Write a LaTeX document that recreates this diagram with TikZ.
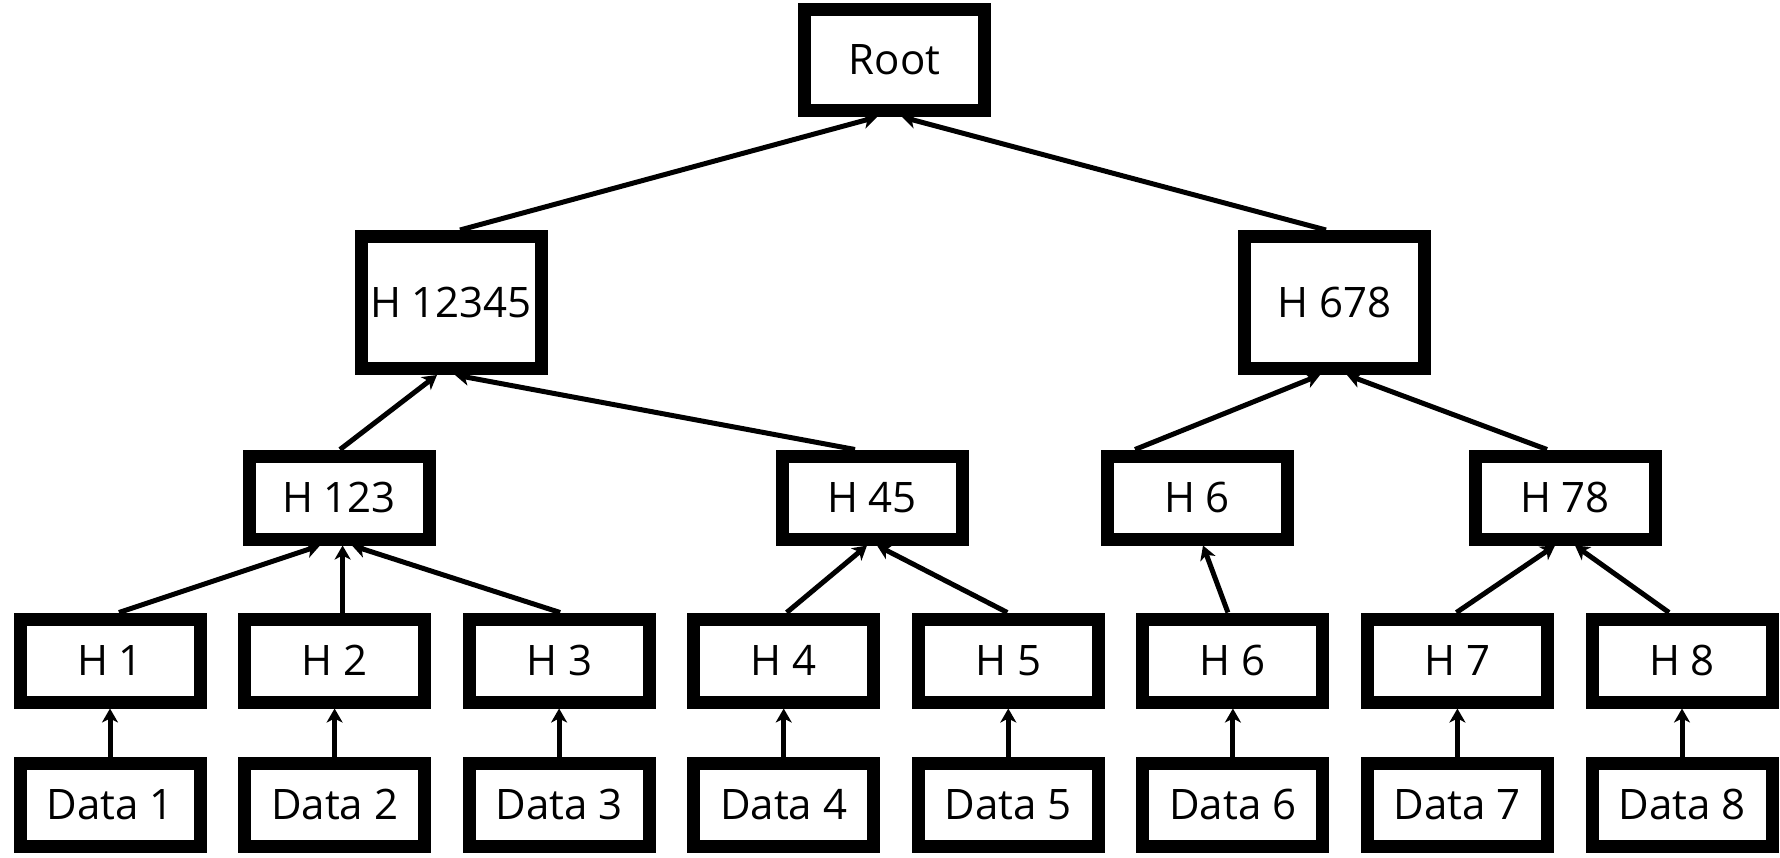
\documentclass[tikz,border=0pt]{standalone}
\usepackage{fontspec}
\setmainfont{Open Sans}
\usetikzlibrary{arrows.meta,calc}

\tikzset{
  hashbox/.style={draw=black, line width=6.5pt, fill=white, inner sep=0pt,
    minimum width=90pt, minimum height=41.5pt,
    font=\fontsize{21}{25}\selectfont, text=black},
  link/.style={draw=black, line width=2.5pt,
    -{Stealth[length=7pt,width=8pt,inset=2pt]}}
}

\begin{document}
\begin{tikzpicture}[x=0.5pt,y=-0.5pt]
\useasboundingbox (0,0) rectangle (1780,857);

% top of the tree
\node[hashbox, minimum height=50.5pt] (root) at (894.5,60) {Root};

% second level
\node[hashbox, minimum height=66pt] (h12345) at (451,302.5) {H 12345};
\node[hashbox, minimum height=66pt] (h678) at (1334.5,302.5) {H 678};

% third level
\node[hashbox] (h123) at (339,497.5) {H 123};
\node[hashbox] (h45) at (872,497.5) {H 45};
\node[hashbox] (h6b) at (1197,497.5) {H 6};
\node[hashbox] (h78) at (1565,497.5) {H 78};

% leaf hashes and data blocks
\foreach \i/\x in {1/110,2/334.6,3/559.1,4/783.7,5/1008.3,6/1232.9,7/1457.4,8/1682}{
  \node[hashbox] (h\i) at (\x,660.5) {H \i};
  \node[hashbox] (d\i) at (\x,804.5) {Data \i};
  \draw[link] (d\i.north) -- (h\i.south);
}

% connectors between levels
\draw[link] ($(h12345.north)+(9,0)$) -- ($(root.south)+(-17.5,0)$);
\draw[link] ($(h678.north)+(-8.5,0)$) -- ($(root.south)+(7.5,0)$);

\draw[link] ($(h123.north)+(1,0)$) -- ($(h12345.south)+(-14,0)$);
\draw[link] ($(h45.north)+(-17,0)$) -- ($(h12345.south)+(4,0)$);
\draw[link] ($(h6b.north)+(-62,0)$) -- ($(h678.south)+(-14.5,0)$);
\draw[link] ($(h78.north)+(-18,0)$) -- ($(h678.south)+(12.5,0)$);

\draw[link] ($(h1.north)+(9,0)$) -- ($(h123.south)+(-19,0)$);
\draw[link] ($(h2.north)+(8,0)$) -- ($(h123.south)+(3.6,0)$);
\draw[link] ($(h3.north)+(1,0)$) -- ($(h123.south)+(13,0)$);
\draw[link] ($(h4.north)+(3,0)$) -- ($(h45.south)+(-5,0)$);
\draw[link] ($(h5.north)+(-1,0)$) -- ($(h45.south)+(5,0)$);
\draw[link] ($(h6.north)+(-5,0)$) -- ($(h6b.south)+(6,0)$);
\draw[link] ($(h7.north)+(-1,0)$) -- ($(h78.south)+(-10,0)$);
\draw[link] ($(h8.north)+(-13,0)$) -- ($(h78.south)+(10,0)$);
\end{tikzpicture}
\end{document}
